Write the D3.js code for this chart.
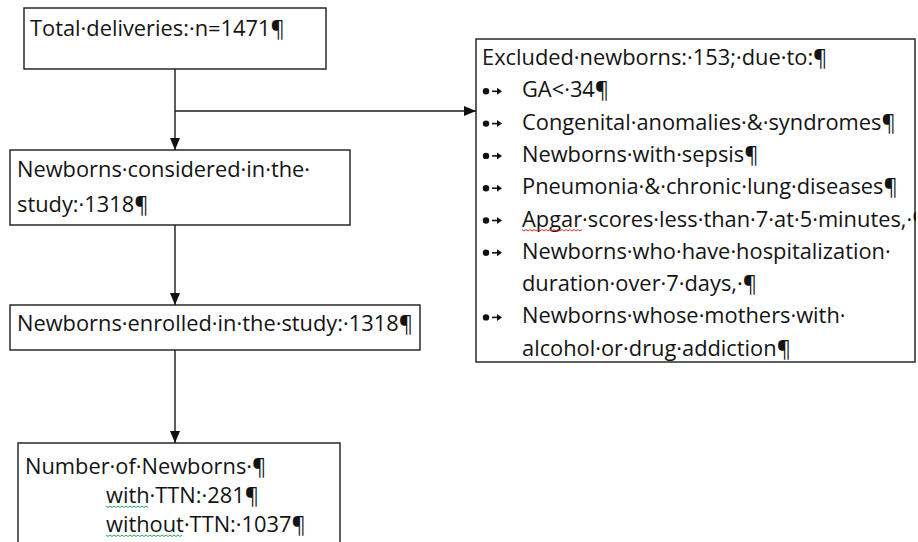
<!DOCTYPE html>
<html lang="en">
<head>
<meta charset="UTF-8">
<title>Study flowchart</title>
<script src="https://d3js.org/d3.v7.min.js"></script>
<style>
  body { margin: 0; background: #ffffff; overflow: hidden; }
  svg { display: block; }
  text { font-family: 'Open Sans', 'Noto Sans', sans-serif; fill: #141414; }
</style>
</head>
<body>
<div id="chart"></div>
<script>
// Flowchart content (Word formatting marks kept as in the original)
const totalLines = ["Total·deliveries:·n=1471¶"];
const consideredLines = ["Newborns·considered·in·the·", "study:·1318¶"];
const enrolledLines = ["Newborns·enrolled·in·the·study:·1318¶"];
const outcomeLines = ["Number·of·Newborns·¶", "with·TTN:·281¶", "without·TTN:·1037¶"];
const excludedHeader = "Excluded·newborns:·153;·due·to:¶";
const exclusionReasons = [
  ["GA<·34¶"],
  ["Congenital·anomalies·&·syndromes¶"],
  ["Newborns·with·sepsis¶"],
  ["Pneumonia·&·chronic·lung·diseases¶"],
  ["Apgar·scores·less·than·7·at·5·minutes,·¶"],
  ["Newborns·who·have·hospitalization·", "duration·over·7·days,·¶"],
  ["Newborns·whose·mothers·with·", "alcohol·or·drug·addiction¶"]
];
// proofing underlines: [line text, word, colour]
const proofMarks = [
  ["Apgar·scores·less·than·7·at·5·minutes,·¶", "Apgar", "#e0302a"],
  ["with·TTN:·281¶", "with", "#2f9e62"],
  ["without·TTN:·1037¶", "without", "#2f9e62"]
];

const width = 918, height = 542;
const svg = d3.select("#chart").append("svg")
  .attr("width", width).attr("height", height);

const defs = svg.append("defs");
defs.append("marker")
  .attr("id", "arrow")
  .attr("viewBox", "0 0 12 10")
  .attr("refX", 12).attr("refY", 5)
  .attr("markerUnits", "userSpaceOnUse")
  .attr("markerWidth", 12).attr("markerHeight", 11)
  .attr("orient", "auto")
  .append("path").attr("d", "M0,0 L12,5 L0,10 Z").attr("fill", "#111");
defs.append("clipPath").attr("id", "clipRight")
  .append("rect").attr("x", 476).attr("y", 39).attr("width", 440).attr("height", 323);

// size font so the enrolled line matches its width in the picture
const probe = svg.append("text").attr("font-size", 20).text(enrolledLines[0]);
const fontSize = 20 * 396 / probe.node().getComputedTextLength();
probe.remove();

function measure(str) {
  const t = svg.append("text").attr("font-size", fontSize).text(str);
  const w = t.node().getComputedTextLength();
  t.remove();
  return w;
}

// layout
const boxes = [
  { x: 24, y: 8, w: 302, h: 61, lines: totalLines, tx: 30, ty: [36] },
  { x: 10, y: 150, w: 340, h: 75, lines: consideredLines, tx: 17, ty: [177, 212] },
  { x: 10, y: 305, w: 410, h: 45, lines: enrolledLines, tx: 17, ty: [331] },
  { x: 18, y: 443, w: 322, h: 110, lines: outcomeLines, tx: 25, ty: [474, 503, 532], indent: [0, 81, 81] }
];
const exBox = { x: 476, y: 39, w: 439, h: 323 };

const spineX = 175;
const branchY = 111;

const lineColor = "#1b1b1b";
const g = svg.append("g");

// box outlines
g.selectAll("rect.box")
  .data(boxes.concat([exBox]))
  .enter().append("rect")
  .attr("class", "box")
  .attr("x", d => d.x).attr("y", d => d.y)
  .attr("width", d => d.w).attr("height", d => d.h)
  .attr("fill", "none").attr("stroke", lineColor).attr("stroke-width", 1.4);

// connectors
const connectors = [
  [[spineX, boxes[0].y + boxes[0].h], [spineX, boxes[1].y]],
  [[spineX, branchY], [exBox.x, branchY]],
  [[spineX, boxes[1].y + boxes[1].h], [spineX, boxes[2].y]],
  [[spineX, boxes[2].y + boxes[2].h], [spineX, boxes[3].y]]
];
g.selectAll("path.conn")
  .data(connectors)
  .enter().append("path")
  .attr("class", "conn")
  .attr("d", d3.line())
  .attr("stroke", lineColor).attr("stroke-width", 1.4).attr("fill", "none")
  .attr("marker-end", "url(#arrow)");

// box text
boxes.forEach(b => {
  g.selectAll(null)
    .data(b.lines)
    .enter().append("text")
    .attr("x", (d, i) => b.tx + (b.indent ? b.indent[i] : 0))
    .attr("y", (d, i) => b.ty[i])
    .attr("font-size", fontSize)
    .text(d => d);
});

// excluded box text
const exG = g.append("g").attr("clip-path", "url(#clipRight)");
exG.append("text")
  .attr("x", 482).attr("y", 65)
  .attr("font-size", fontSize)
  .text(excludedHeader);

const rowStep = 32.3;
let row = 1;
const rows = [];
exclusionReasons.forEach(r => {
  r.forEach((line, j) => {
    rows.push({ text: line, bullet: j === 0, y: 65 + row * rowStep });
    row++;
  });
});

const bulletRows = rows.filter(d => d.bullet);
exG.selectAll("circle.bullet")
  .data(bulletRows)
  .enter().append("circle")
  .attr("cx", 486).attr("cy", d => d.y - 6)
  .attr("r", 3.2).attr("fill", "#111");
// Word tab marks (→)
exG.selectAll("path.tab")
  .data(bulletRows)
  .enter().append("path")
  .attr("d", d => `M492,${d.y - 6}H498`)
  .attr("stroke", "#111").attr("stroke-width", 1.6);
exG.selectAll("path.tabhead")
  .data(bulletRows)
  .enter().append("path")
  .attr("d", d => `M497,${d.y - 9.5}L502,${d.y - 6}L497,${d.y - 2.5}Z`)
  .attr("fill", "#111");
exG.selectAll("text.reason")
  .data(rows)
  .enter().append("text")
  .attr("x", 522).attr("y", d => d.y)
  .attr("font-size", fontSize)
  .text(d => d.text);

// proofing squiggles
function squiggle(x0, x1, y) {
  const pts = [];
  for (let x = x0, k = 0; x <= x1; x += 2, k++) pts.push([x, y + (k % 2 ? 1.5 : 0)]);
  return d3.line()(pts);
}
const allRows = rows.map(r => ({ text: r.text, x: 522, y: r.y }))
  .concat(boxes[3].lines.map((t, i) => ({ text: t, x: boxes[3].tx + boxes[3].indent[i], y: boxes[3].ty[i] })));
proofMarks.forEach(([lineText, word, color]) => {
  const r = allRows.find(d => d.text === lineText);
  if (!r) return;
  g.append("path")
    .attr("d", squiggle(r.x, r.x + measure(word), r.y + 3))
    .attr("stroke", color).attr("stroke-width", 1).attr("fill", "none");
});
</script>
</body>
</html>
